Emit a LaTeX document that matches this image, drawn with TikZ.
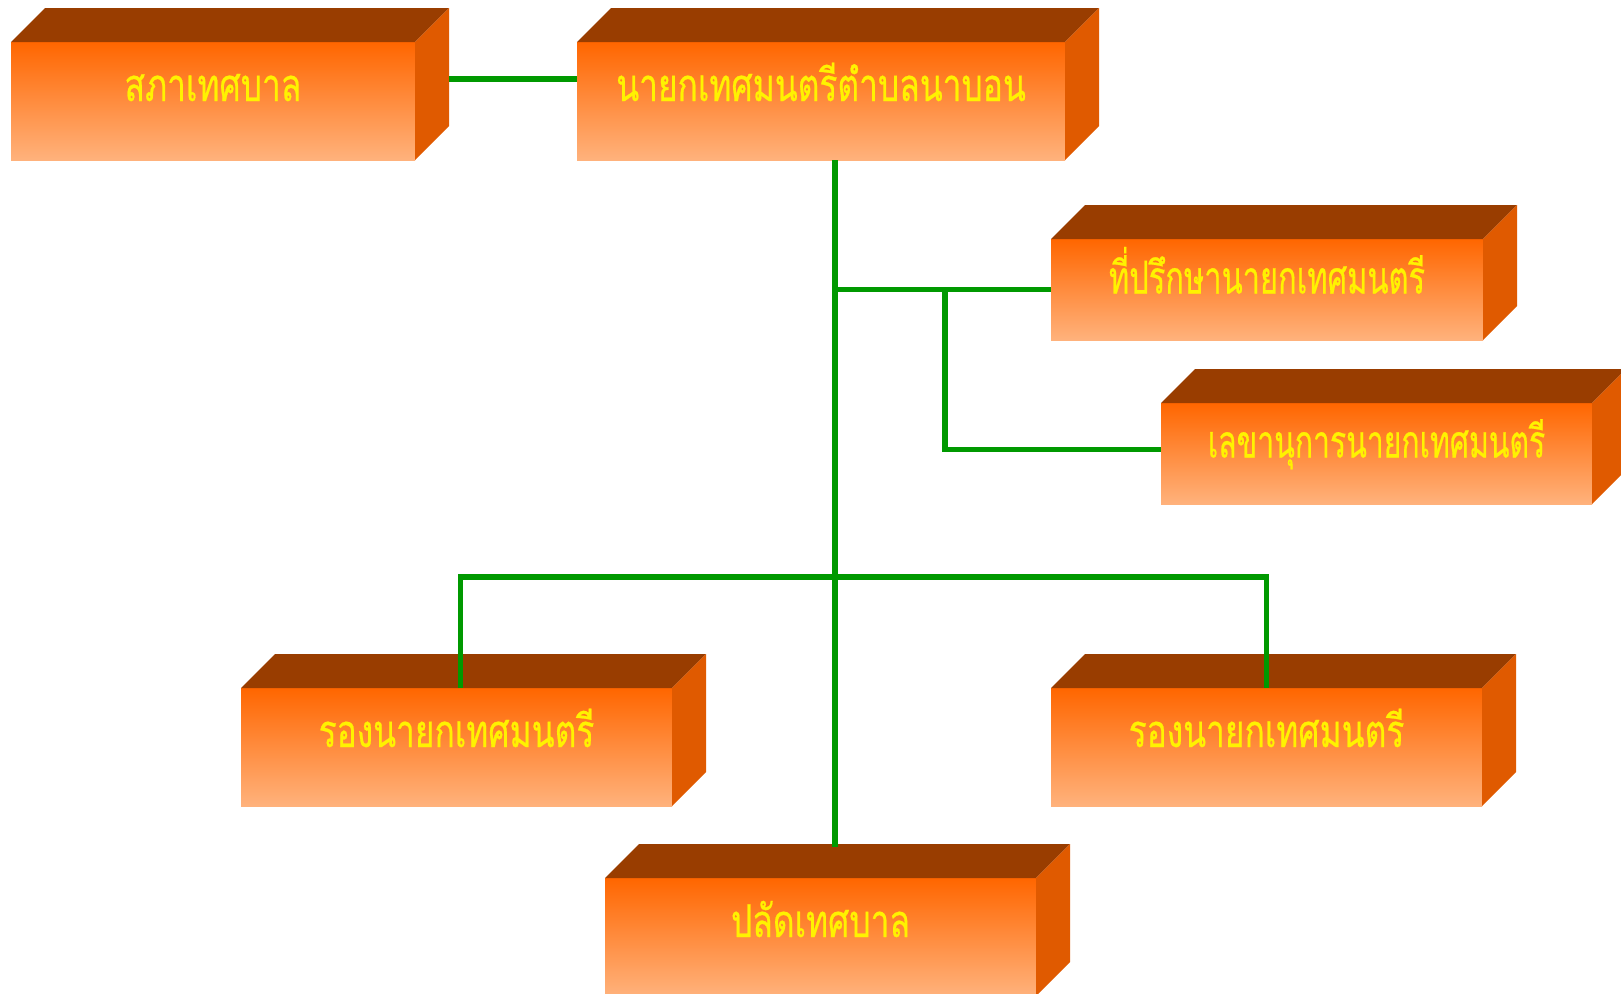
\documentclass[tikz,border=0pt]{standalone}
\usepackage{graphicx}
\usepackage{fontspec}
\newfontfamily\thaifont[Script=Thai,FakeBold=0.6]{Loma}
\newcommand\tallthai[2][1]{\scalebox{#1}[1.35]{#2}}
\definecolor{topbrown}{RGB}{153,61,0}
\definecolor{sideorange}{RGB}{224,90,0}
\definecolor{facetop}{RGB}{255,102,0}
\definecolor{facebottom}{RGB}{255,178,124}
\definecolor{linkgreen}{RGB}{0,153,0}
\tikzset{
  boxfront/.style={anchor=north west, inner sep=0pt, outer sep=0pt,
    top color=facetop, bottom color=facebottom, draw=none,
    minimum width=431pt, text=yellow, font=\thaifont\fontsize{33.5}{36}\selectfont},
  tallbox/.style={boxfront, minimum height=118pt, text height=19pt, text depth=19pt},
  shortbox/.style={boxfront, minimum height=101pt, text height=23pt, text depth=15pt},
  boxtop/.style={fill=topbrown},
  boxside/.style={fill=sideorange},
  link/.style={draw=linkgreen, line width=5.5pt}
}
\begin{document}
\begin{tikzpicture}[x=1pt,y=-1pt]
\useasboundingbox (0,0) rectangle (1621,993);

\node[tallbox, minimum width=404pt] (council) at (11,42) {\tallthai{สภาเทศบาล}};
\node[tallbox, minimum width=488pt] (mayor) at (577,42) {\tallthai{นายกเทศมนตรีตำบลนาบอน}};
\node[shortbox, minimum width=432pt] (advisor) at (1051,239) {\tallthai[0.92]{ที่ปรึกษานายกเทศมนตรี}};
\node[shortbox] (secretary) at (1161,403) {\tallthai[0.9]{เลขานุการนายกเทศมนตรี}};
\node[tallbox] (depleft) at (241,688) {\tallthai{รองนายกเทศมนตรี}};
\node[tallbox] (depright) at (1051,688) {\tallthai{รองนายกเทศมนตรี}};
\node[tallbox] (clerk) at (605,878) {\tallthai{ปลัดเทศบาล}};

\foreach \n in {council,mayor,advisor,secretary,depleft,depright,clerk}{
  \fill[boxtop] (\n.north west) -- ++(34,-34) -- ([shift={(34,-34)}]\n.north east) -- (\n.north east) -- cycle;
  \fill[boxside] (\n.north east) -- ++(34,-34) -- ([shift={(34,-34)}]\n.south east) -- (\n.south east) -- cycle;
}

\coordinate (trunk) at ([xshift=14pt]mayor.south);
\coordinate (fork) at (945,289);
\coordinate (bar) at (835,577);

\draw[link] ([xshift=34pt,yshift=22pt]council.east) -- ([yshift=22pt]mayor.west);
\draw[link] (trunk) -- ([yshift=31pt]clerk.north -| trunk);
\draw[link] (advisor.west) -- (advisor.west -| trunk);
\draw[link] (fork) |- ([yshift=4pt]secretary.west);
\draw[link] ([xshift=4pt]depleft.north) |- (bar) -| (depright.north);
\end{tikzpicture}
\end{document}
